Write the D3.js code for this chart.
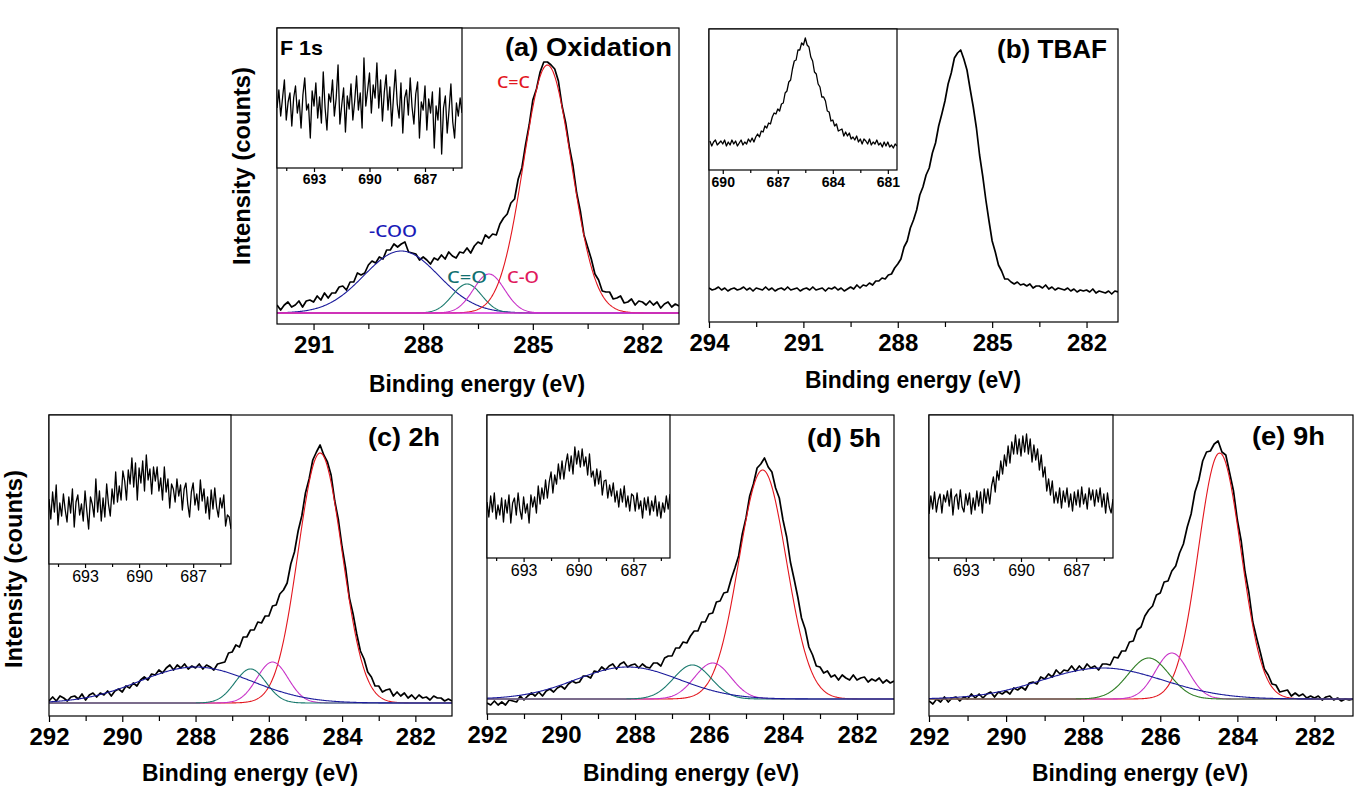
<!DOCTYPE html>
<html><head><meta charset="utf-8">
<script src="https://cdn.jsdelivr.net/npm/d3@7/dist/d3.min.js"></script>
<style>body{margin:0;background:#fff}</style>
</head><body>
<script>
// ================= DATA =================
const energyStep = 0.1;
// main C 1s spectra (counts, arbitrary units), first point at the start energy, step -0.1 eV
const startA = 292.0, startB = 294.0, startC = 292.0, startD = 292.0, startE = 292.0;
const spectrumA = [8,3,8,11,6,8,12,6,12,13,
11,17,13,20,15,20,20,26,27,23,
31,31,40,38,40,48,52,50,56,54,
63,63,69,66,69,71,61,60,59,53,
56,53,49,55,53,58,54,61,57,55,
61,60,65,60,67,71,69,78,75,79,
78,89,95,99,110,114,134,145,168,188,
213,224,241,251,251,248,244,232,207,190,
166,147,120,102,78,66,54,39,33,22,
21,21,14,15,17,10,11,14,8,12,
11,8,12,8,11,5,9,11,6,9,
7];
const spectrumB = [34,32,33,35,32,34,31,33,34,32,
33,35,32,34,31,34,33,32,35,32,
34,31,33,34,32,35,32,33,34,31,
33,34,32,35,32,33,34,31,34,33,
35,32,34,31,33,35,33,37,34,37,
36,39,37,41,41,44,43,47,48,54,
58,63,75,81,94,102,112,127,135,147,
154,169,179,196,208,221,238,249,264,269,
272,263,252,233,215,194,167,146,122,101,
81,70,57,51,43,43,40,38,40,37,
38,36,38,34,36,36,34,37,33,35,
32,34,33,32,34,31,33,30,32,31,
32,30,33,29,31,30,29,31,28,31,
30];
const spectrumC = [2,6,2,7,5,2,6,7,4,9,
3,8,10,6,10,8,12,7,12,14,
11,17,15,20,17,23,26,23,29,28,
33,30,35,38,33,38,35,39,34,37,
35,39,34,38,36,33,39,40,41,50,
51,58,56,66,66,73,73,81,80,87,
87,97,98,109,113,120,139,151,172,187,
210,224,243,251,258,248,241,228,202,183,
156,134,105,89,69,52,44,31,26,17,
17,11,13,14,7,11,7,10,5,8,
4,8,5,6,3,7,5,5,2,4,
2];
const spectrumD = [-4,-6,-2,-6,-3,-6,-1,-2,-3,3,
-1,3,6,3,7,3,8,10,7,11,
13,10,15,18,16,17,23,23,21,28,
27,32,29,33,35,30,35,37,32,34,
35,31,35,32,31,36,36,33,41,43,
43,51,51,57,56,63,68,68,77,77,
85,86,97,98,106,107,120,131,143,165,
181,203,215,231,235,241,232,227,211,201,
179,162,137,120,102,81,70,52,44,33,
32,26,28,22,24,19,24,21,19,24,
19,21,22,17,20,18,21,16,19,16,
18];
const spectrumE = [-2,-5,0,-3,2,-3,1,2,-2,2,
0,5,1,5,1,5,7,2,7,5,
8,5,11,9,12,9,16,17,15,22,
20,25,22,29,25,29,28,33,28,33,
29,35,31,33,29,35,35,34,42,41,
48,48,57,58,69,72,83,89,93,104,
106,117,118,128,133,146,155,172,185,207,
219,238,247,248,255,258,247,244,226,208,
179,158,127,106,77,61,46,30,24,15,
14,7,8,9,3,6,3,5,1,3,
1,3,-1,2,3,-1,1,-2,0,-1,
0];

// F 1s insets
const insetStartA = 695.0, insetStartB = 690.7, insetStartC = 695.0, insetStartD = 695.0, insetStartE = 695.0;
const insetA = [60,78,52,70,88,48,66,75,42,70,
82,55,68,40,73,90,58,64,30,77,
62,85,50,71,45,96,60,38,74,66,
88,52,70,103,44,63,80,36,72,59,
84,48,67,92,58,75,40,110,62,78,
95,55,83,70,105,60,88,47,76,93,
58,81,42,72,98,64,50,85,35,70,
78,53,90,61,44,74,86,30,66,58,
82,38,69,55,76,20,62,48,80,14,
60,72,35,58,84,46,30,65,52,70,
55];
const insetB = [29,24,28,30,25,27,29,26,30,24,
28,25,30,26,29,24,27,30,25,28,
26,31,28,32,28,33,36,33,39,38,
44,42,47,46,53,57,56,61,59,66,
67,77,79,88,90,101,109,110,120,120,
127,125,132,125,123,113,109,98,96,86,
83,73,73,69,59,58,49,50,44,46,
39,40,41,34,38,34,37,31,33,30,
34,28,31,26,31,29,26,31,25,28,
26,30,25,27,23,28,24,28,23,25,
22,26,24];
const insetC = [65,45,72,52,79,39,61,48,70,54,
42,67,51,75,37,62,69,49,60,43,
73,53,35,67,60,47,85,52,73,43,
66,47,80,60,48,75,60,92,62,78,
64,93,83,64,94,80,106,77,101,64,
96,81,103,73,109,84,95,70,97,83,
97,73,86,64,97,72,85,56,80,75,
62,85,68,79,54,75,81,60,47,72,
81,59,70,54,84,63,75,51,67,45,
74,55,76,57,47,66,56,69,38,49,
47,35];
const insetD = [56,41,62,46,65,39,53,43,60,36,
58,45,63,35,55,60,43,65,48,39,
61,45,54,35,63,51,61,45,72,54,
70,59,78,60,76,86,65,83,74,94,
79,97,79,94,104,87,102,84,111,94,
107,91,109,92,101,83,104,81,87,72,
89,74,87,63,77,78,60,73,62,75,
56,67,51,69,56,72,51,62,47,64,
62,47,65,49,57,40,60,48,61,43,
57,47,62,42,56,40,55,46,62,49,
64];
const insetE = [44,62,49,66,46,58,64,45,63,56,
67,52,69,43,61,64,49,68,51,46,
64,53,65,44,60,48,67,52,66,45,
69,55,69,54,72,81,66,87,78,97,
84,103,92,112,95,116,104,123,104,119,
102,122,106,124,104,119,96,113,98,109,
88,103,81,91,67,79,63,77,55,66,
55,70,50,67,56,70,51,64,47,66,
53,68,51,71,54,64,49,70,58,68,
52,68,56,70,51,64,45,65,51,45,
59];

// Gaussian fit components: order [C=C, -COO, C=O, C-O]
const fitNames = ["C=C", "-COO", "C=O", "C-O"];
const fitCenterA = [284.6, 288.6, 286.8, 286.2];
const fitFwhmA   = [1.54, 2.4, 0.95, 1.0];
const fitHeightA = [248, 62, 29, 39];
const fitCenterC = [284.6, 288.0, 286.5, 285.9];
const fitFwhmC   = [1.41, 3.6, 1.0, 1.0];
const fitHeightC = [250, 36, 34, 41];
const fitCenterD = [284.55, 288.2, 286.45, 285.9];
const fitFwhmD   = [1.51, 3.3, 1.2, 1.15];
const fitHeightD = [229, 32, 34, 36];
const fitCenterE = [284.46, 287.5, 286.3, 285.7];
const fitFwhmE   = [1.3, 3.7, 1.25, 1.0];
const fitHeightE = [246, 31, 41, 46];

// tick values / labels
const majorTicksA = [291, 288, 285, 282];
const minorTicksA = [289.5, 286.5, 283.5];
const majorTicksB = [294, 291, 288, 285, 282];
const minorTicksB = [292.5, 289.5, 286.5, 283.5];
const majorTicksCDE = [292, 290, 288, 286, 284, 282];
const minorTicksCDE = [291, 289, 287, 285, 283];
const insetMajorTicks = [693, 690, 687];
const insetMinorTicks = [694.5, 691.5, 688.5, 685.5];
const insetMajorTicksB = [690, 687, 684, 681];
const insetMinorTicksB = [688.5, 685.5, 682.5];

const titles = ["(a) Oxidation", "(b) TBAF", "(c) 2h", "(d) 5h", "(e) 9h"];
const xAxisTitle = "Binding energy (eV)";
const yAxisTitle = "Intensity (counts)";
const insetTitle = "F 1s";

// ================= STYLE / LAYOUT =================
const FONT = "'Liberation Sans', Arial, sans-serif";
const fitColors = ["#e3161e", "#1c1c9c", "#1a7a6e", "#c832c8"];
const fitColorsE = ["#e3161e", "#1c1c9c", "#2e7d23", "#c832c8"];

const panels = [
  {id:"a", frame:[277,28,679,324], xDom:[292,281], yDom:[-11,285], data:spectrumA, start:startA,
   major:majorTicksA, minor:minorTicksA, fit:[fitCenterA,fitFwhmA,fitHeightA], colors:fitColors,
   order:[1,2,3,0], baseline:"#d22ed2",
   title:{text:titles[0], x:505, y:56, len:167},
   xlab:{x:477, y:392}, ylab:{x:250, y:166},
   inset:{frame:[277,28,462,168], xDom:[695,685], yDom:[0,140], data:insetA, start:insetStartA,
          major:insetMajorTicks, minor:insetMinorTicks, bold:true, fs:14, pad:2}},
  {id:"b", frame:[709,29,1118,322], xDom:[294,281], yDom:[0,293], data:spectrumB, start:startB,
   major:majorTicksB, minor:minorTicksB,
   title:{text:titles[1], x:997, y:58, len:110},
   xlab:{x:913, y:388},
   inset:{frame:[709,29,897,170], xDom:[690.75,680.5], yDom:[0,141], data:insetB, start:insetStartB,
          major:insetMajorTicksB, minor:insetMinorTicksB, bold:true, fs:14, pad:3}},
  {id:"c", frame:[49,415,452,716], xDom:[292,281], yDom:[-13,288], data:spectrumC, start:startC,
   major:majorTicksCDE, minor:minorTicksCDE, fit:[fitCenterC,fitFwhmC,fitHeightC], colors:fitColors,
   order:[0,3,2,1],
   title:{text:titles[2], x:368, y:446, len:72},
   xlab:{x:250, y:781}, ylab:{x:22, y:569},
   inset:{frame:[49,415,231,564], xDom:[695,684.9], yDom:[0,149], data:insetC, start:insetStartC,
          major:insetMajorTicks, minor:insetMinorTicks, bold:false, fs:16, pad:3}},
  {id:"d", frame:[487,415,894,714], xDom:[292,281], yDom:[-15,284], data:spectrumD, start:startD,
   major:majorTicksCDE, minor:minorTicksCDE, fit:[fitCenterD,fitFwhmD,fitHeightD], colors:fitColors,
   order:[0,3,2,1],
   title:{text:titles[3], x:807, y:447, len:74},
   xlab:{x:691, y:781},
   inset:{frame:[487,415,670,558], xDom:[695,685], yDom:[0,143], data:insetD, start:insetStartD,
          major:insetMajorTicks, minor:insetMinorTicks, bold:false, fs:16, pad:3}},
  {id:"e", frame:[929,415,1353,716], xDom:[292,281], yDom:[-17,284], data:spectrumE, start:startE,
   major:majorTicksCDE, minor:minorTicksCDE, fit:[fitCenterE,fitFwhmE,fitHeightE], colors:fitColorsE,
   order:[0,3,2,1],
   title:{text:titles[4], x:1252, y:445, len:73},
   xlab:{x:1140, y:781},
   inset:{frame:[929,415,1113,558], xDom:[695,685], yDom:[0,143], data:insetE, start:insetStartE,
          major:insetMajorTicks, minor:insetMinorTicks, bold:false, fs:16, pad:3}}
];

// ================= DRAW =================
const svg = d3.select("body").append("svg").attr("width",1361).attr("height",799)
  .style("font-family", FONT);
const defs = svg.append("defs");

function gauss(e, c, w, h){ return h*Math.exp(-4*Math.LN2*(e-c)*(e-c)/(w*w)); }

function styleAxis(ax, fs, bold){
  ax.select(".domain").remove();
  ax.selectAll("line").attr("stroke","#000").attr("stroke-width",1.2);
  ax.selectAll("text").attr("font-size",fs).attr("font-weight",bold?"bold":"normal")
    .attr("font-family",FONT).attr("fill","#000");
}

function drawPlot(g, id, fr, xDom, yDom, data, start, major, minor, opts){
  const [L,T,R,B] = fr;
  const x = d3.scaleLinear().domain(xDom).range([L,R]);
  const y = d3.scaleLinear().domain(yDom).range([B,T]);
  defs.append("clipPath").attr("id","clip"+id).append("rect")
    .attr("x",L).attr("y",T).attr("width",R-L).attr("height",B-T);
  if(opts.fill) g.append("rect").attr("x",L).attr("y",T).attr("width",R-L).attr("height",B-T).attr("fill","#fff");
  const plot = g.append("g").attr("clip-path",`url(#clip${id})`);
  plot.append("path").datum(data)
    .attr("d", d3.line().x((d,i)=>x(start - i*energyStep)).y(d=>y(d)))
    .attr("fill","none").attr("stroke","#000").attr("stroke-width",opts.lw).attr("stroke-linejoin","round");
  g.append("rect").attr("x",L).attr("y",T).attr("width",R-L).attr("height",B-T)
    .attr("fill","none").attr("stroke","#000").attr("stroke-width",1.2);
  const axMaj = g.append("g").attr("transform",`translate(0,${B})`)
    .call(d3.axisBottom(x).tickValues(major).tickSize(opts.tick).tickPadding(opts.pad).tickFormat(d3.format("d")));
  styleAxis(axMaj, opts.fs, opts.bold);
  const axMin = g.append("g").attr("transform",`translate(0,${B})`)
    .call(d3.axisBottom(x).tickValues(minor).tickSize(opts.tick-1).tickFormat(""));
  styleAxis(axMin, opts.fs, opts.bold);
  return {x, y, plot};
}

panels.forEach(p => {
  const g = svg.append("g");
  const m = drawPlot(g, p.id, p.frame, p.xDom, p.yDom, p.data, p.start, p.major, p.minor,
    {lw:1.7, tick:6, pad:6, fs:24, bold:true, fill:false});
  // fitted components
  if(p.fit){
    const [cs, ws, hs] = p.fit;
    const es = d3.range(p.xDom[0], p.xDom[1]-0.001, -0.02);
    p.order.forEach(k => {
      m.plot.append("path").datum(es)
        .attr("d", d3.line().x(e=>m.x(e)).y(e=>m.y(gauss(e, cs[k], ws[k], hs[k]))))
        .attr("fill","none").attr("stroke",p.colors[k]).attr("stroke-width",1.1);
    });
  }
  if(p.baseline){
    m.plot.append("line").attr("x1",m.x(p.xDom[0])).attr("x2",m.x(p.xDom[1]))
      .attr("y1",m.y(0)).attr("y2",m.y(0)).attr("stroke",p.baseline).attr("stroke-width",1.3);
  }
  // inset
  const ins = p.inset;
  drawPlot(g, p.id+"i", ins.frame, ins.xDom, ins.yDom, ins.data, ins.start, ins.major, ins.minor,
    {lw:1.3, tick:4, pad:ins.pad, fs:ins.fs, bold:ins.bold, fill:true});
  // title
  g.append("text").attr("x",p.title.x).attr("y",p.title.y).text(p.title.text)
    .attr("font-size",25).attr("font-weight","bold").attr("textLength",p.title.len).attr("lengthAdjust","spacingAndGlyphs");
  // axis titles
  g.append("text").attr("x",p.xlab.x).attr("y",p.xlab.y).attr("text-anchor","middle").text(xAxisTitle)
    .attr("font-size",23).attr("font-weight","bold").attr("textLength",216).attr("lengthAdjust","spacingAndGlyphs");
  if(p.ylab){
    g.append("text").attr("transform",`translate(${p.ylab.x},${p.ylab.y}) rotate(-90)`)
      .attr("text-anchor","middle").text(yAxisTitle)
      .attr("font-size",23).attr("font-weight","bold").attr("textLength",198).attr("lengthAdjust","spacingAndGlyphs");
  }
});

// labels of panel (a)
svg.append("text").attr("x",280).attr("y",55).text(insetTitle)
  .attr("font-size",21).attr("font-weight","bold").attr("textLength",43).attr("lengthAdjust","spacingAndGlyphs");
const fitLabelPos = [[497,88,33],[369,237,48],[447,283,40],[507,283,32]];
const fitLabelColors = ["#e3161e","#1a1ab8","#127070","#e0185c"];
fitNames.forEach((n,k) => {
  svg.append("text").attr("x",fitLabelPos[k][0]).attr("y",fitLabelPos[k][1]).text(n)
    .attr("font-family","'Noto Sans', sans-serif").attr("font-size",17).attr("font-weight",500)
    .attr("fill",fitLabelColors[k]).attr("textLength",fitLabelPos[k][2]).attr("lengthAdjust","spacingAndGlyphs");
});
</script>
</body></html>
